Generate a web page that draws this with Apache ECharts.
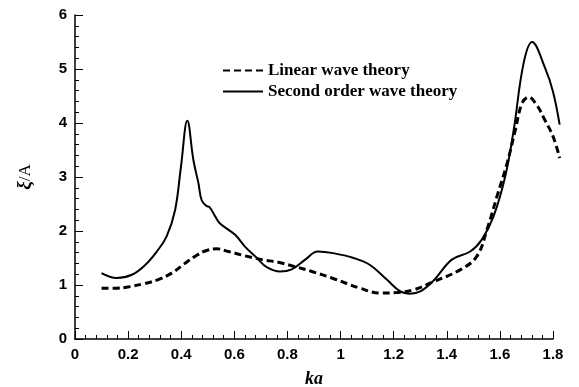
<!DOCTYPE html>
<html>
<head>
<meta charset="utf-8">
<script src="https://cdn.jsdelivr.net/npm/echarts@6/dist/echarts.min.js"></script>
<style>
  html, body { margin: 0; padding: 0; background: #fff; }
  #container { width: 579px; height: 387px; }
</style>
</head>
<body>
<div id="container"></div>
<script>
const kaLinear = [0.10, 0.151, 0.207, 0.264, 0.314, 0.364, 0.414, 0.452, 0.49, 0.534, 0.578, 0.641, 0.703, 0.766, 0.829, 0.892, 0.967, 1.074, 1.149, 1.212, 1.275, 1.35, 1.45, 1.513, 1.551, 1.589, 1.627, 1.658, 1.683, 1.708, 1.739, 1.77, 1.801, 1.825]
const xiLinear = [0.94, 0.94, 0.97, 1.03, 1.10, 1.22, 1.40, 1.53, 1.63, 1.67, 1.62, 1.54, 1.47, 1.42, 1.34, 1.25, 1.13, 0.94, 0.85, 0.86, 0.91, 1.06, 1.28, 1.53, 2.02, 2.64, 3.25, 3.87, 4.36, 4.48, 4.33, 4.05, 3.74, 3.35]

const kaSecond = [0.10, 0.157, 0.214, 0.264, 0.308, 0.345, 0.377, 0.399, 0.423, 0.446, 0.465, 0.477, 0.496, 0.505, 0.528, 0.546, 0.603, 0.640, 0.685, 0.722, 0.772, 0.816, 0.867, 0.914, 0.972, 1.049, 1.111, 1.174, 1.225, 1.262, 1.30, 1.35, 1.419, 1.488, 1.532, 1.576, 1.62, 1.652, 1.689, 1.721, 1.77, 1.80, 1.825]
const xiSecond = [1.22, 1.13, 1.19, 1.37, 1.62, 1.90, 2.39, 3.19, 4.04, 3.31, 2.88, 2.57, 2.46, 2.45, 2.27, 2.14, 1.93, 1.71, 1.50, 1.33, 1.25, 1.29, 1.47, 1.62, 1.59, 1.50, 1.37, 1.10, 0.88, 0.84, 0.88, 1.08, 1.47, 1.62, 1.84, 2.27, 3.01, 3.87, 5.10, 5.50, 5.02, 4.58, 3.97]

const xTicks = { min: 0, max: 1.8, interval: 0.2 }
const yTicks = { min: 0, max: 6, interval: 1 }
// the curves run a little past ka = 1.8, so they sit on a hidden twin grid
// with the same scale but a wider range
const xOverflowMax = 1.9

const zip = (xs, ys) => xs.map((x, i) => [x, ys[i]])

const myChart = echarts.init(document.getElementById('container'))

const plotLeft = 75
const plotWidth = 579 - 75 - 26

const axisCommon = {
    axisLine: { show: true, lineStyle: { color: '#000', width: 1.5 } },
    axisTick: { show: true, inside: true, length: 8, lineStyle: { color: '#000', width: 1 } },
    minorTick: { show: true, splitNumber: 5, length: 4, lineStyle: { color: '#000', width: 1 } },
    splitLine: { show: false },
    axisLabel: {
        color: '#000',
        fontFamily: 'Liberation Sans',
        fontWeight: 'bold',
        fontSize: 15,
        margin: 8
    }
}

const option = {
    backgroundColor: '#fff',
    animation: false,
    grid: [
        { left: plotLeft, width: plotWidth, top: 15, bottom: 48, outerBoundsMode: 'none' },
        { left: plotLeft, width: plotWidth * xOverflowMax / xTicks.max, top: 15, bottom: 48, outerBoundsMode: 'none' }
    ],
    legend: {
        orient: 'vertical',
        left: 217,
        top: 57,
        itemWidth: 40,
        itemHeight: 14,
        itemGap: 4,
        itemStyle: { opacity: 0 },
        textStyle: {
            color: '#000',
            fontFamily: 'Liberation Serif',
            fontWeight: 'bold',
            fontSize: 17,
            lineHeight: 17
        },
        data: ['Linear wave theory', 'Second order wave theory']
    },
    xAxis: [
        {
            type: 'value',
            gridIndex: 0,
            ...xTicks,
            ...axisCommon,
            name: 'ka',
            nameLocation: 'middle',
            nameGap: 31,
            nameTextStyle: {
                color: '#000',
                fontFamily: 'Liberation Serif',
                fontWeight: 'bold',
                fontStyle: 'italic',
                fontSize: 18
            }
        },
        { type: 'value', gridIndex: 1, min: 0, max: xOverflowMax, show: false }
    ],
    yAxis: [
        {
            type: 'value',
            gridIndex: 0,
            ...yTicks,
            ...axisCommon,
            name: '{xi|ξ}{a|/A}',
            nameLocation: 'middle',
            nameGap: 40,
            nameTextStyle: {
                rich: {
                    xi: { fontFamily: 'Liberation Serif', fontStyle: 'italic', fontWeight: 'bold', fontSize: 19, color: '#000' },
                    a: { fontFamily: 'Liberation Serif', fontSize: 17, color: '#000' }
                }
            }
        },
        { type: 'value', gridIndex: 1, min: yTicks.min, max: yTicks.max, show: false }
    ],
    series: [
        {
            name: 'Linear wave theory',
            type: 'line',
            xAxisIndex: 1,
            yAxisIndex: 1,
            symbol: 'none',
            smooth: 0.4,
            lineStyle: { color: '#000', width: 3, type: [7, 4] },
            itemStyle: { color: '#000' },
            data: zip(kaLinear, xiLinear)
        },
        {
            name: 'Second order wave theory',
            type: 'line',
            xAxisIndex: 1,
            yAxisIndex: 1,
            symbol: 'none',
            smooth: 0.4,
            lineStyle: { color: '#000', width: 2 },
            itemStyle: { color: '#000' },
            data: zip(kaSecond, xiSecond)
        }
    ]
}

myChart.setOption(option)
</script>
</body>
</html>
